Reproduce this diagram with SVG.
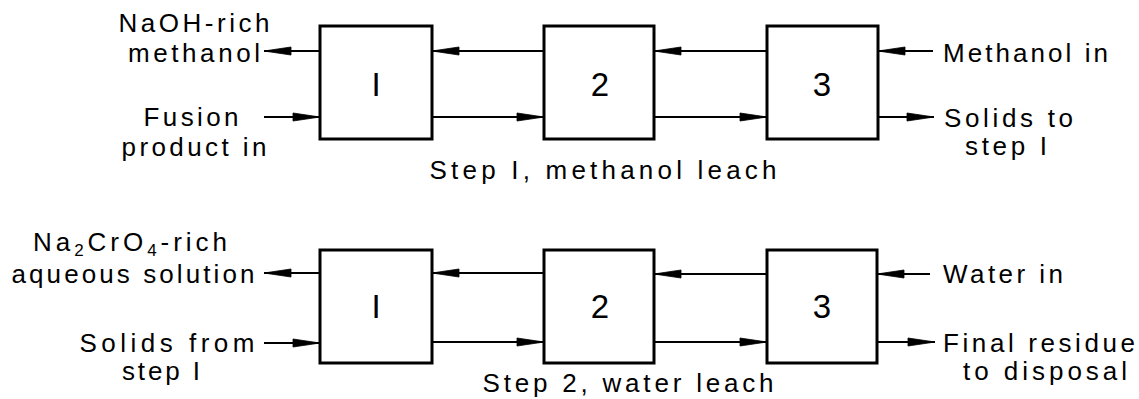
<svg xmlns="http://www.w3.org/2000/svg" width="1139" height="399" viewBox="0 0 1139 399">
  <style>
    .box { fill: #fff; stroke: #000; stroke-width: 3; }
    .num { font-family: "Liberation Sans", Arial, sans-serif; font-size: 33px; text-anchor: middle; fill: #000; }
    .lbl { font-family: "Liberation Sans", Arial, sans-serif; font-size: 26px; fill: #000; }
    .mid { text-anchor: middle; }
    .flow { stroke: #000; stroke-width: 2; fill: none; marker-end: url(#dart); }
  </style>
  <defs>
    <marker id="dart" markerUnits="userSpaceOnUse" markerWidth="32" markerHeight="12" viewBox="-30 -6 32 12" refX="0" refY="0" orient="auto">
      <path d="M0,0 L-27,-4 L-27,4 Z" fill="#000" stroke="#000" stroke-width="0.8" stroke-linejoin="round"/>
    </marker>
  </defs>
  <rect width="1139" height="399" fill="#fff"/>

  <!-- Step 1: methanol leach -->
  <g id="s1-box1"><rect class="box" x="320" y="26" width="112" height="113"/><text class="num" x="376" y="96">I</text></g>
  <g id="s1-box2"><rect class="box" x="544" y="26" width="110" height="113"/><text class="num" x="600" y="96">2</text></g>
  <g id="s1-box3"><rect class="box" x="767" y="26" width="111" height="113"/><text class="num" x="822" y="96">3</text></g>

  <g id="s1-naoh-out">
    <text class="lbl mid" x="194" y="32" textLength="151" lengthAdjust="spacing">NaOH-rich</text>
    <text class="lbl mid" x="194" y="62" textLength="132" lengthAdjust="spacing">methanol</text>
  </g>
  <g id="s1-fusion-in">
    <text class="lbl mid" x="191" y="126" textLength="95" lengthAdjust="spacing">Fusion</text>
    <text class="lbl mid" x="194" y="156" textLength="145" lengthAdjust="spacing">product in</text>
  </g>
  <g id="s1-methanol-in">
    <text class="lbl" x="943" y="62" textLength="165" lengthAdjust="spacing">Methanol in</text>
  </g>
  <g id="s1-solids-out">
    <text class="lbl" x="944" y="127" textLength="129" lengthAdjust="spacing">Solids to</text>
    <text class="lbl mid" x="1006" y="155" textLength="82" lengthAdjust="spacing">step I</text>
  </g>
  <g id="s1-title">
    <text class="lbl mid" x="603" y="179" textLength="347" lengthAdjust="spacing">Step I, methanol leach</text>
  </g>

  <!-- Step 2: water leach -->
  <g id="s2-box1"><rect class="box" x="320" y="250" width="112" height="113"/><text class="num" x="376" y="318">I</text></g>
  <g id="s2-box2"><rect class="box" x="544" y="250" width="110" height="113"/><text class="num" x="600" y="318">2</text></g>
  <g id="s2-box3"><rect class="box" x="767" y="250" width="110" height="113"/><text class="num" x="822" y="318">3</text></g>

  <g id="s2-chromate-out">
    <text class="lbl mid" x="130" y="251" textLength="194" lengthAdjust="spacing">Na<tspan font-size="17" dy="5">2</tspan><tspan dy="-5">CrO</tspan><tspan font-size="17" dy="5">4</tspan><tspan dy="-5">-rich</tspan></text>
    <text class="lbl mid" x="133" y="283" textLength="243" lengthAdjust="spacing">aqueous solution</text>
  </g>
  <g id="s2-solids-in">
    <text class="lbl mid" x="167" y="352" textLength="175" lengthAdjust="spacing">Solids from</text>
    <text class="lbl mid" x="161" y="380" textLength="78" lengthAdjust="spacing">step I</text>
  </g>
  <g id="s2-water-in">
    <text class="lbl" x="943" y="283" textLength="120" lengthAdjust="spacing">Water in</text>
  </g>
  <g id="s2-residue-out">
    <text class="lbl mid" x="1039" y="352" textLength="192" lengthAdjust="spacing">Final residue</text>
    <text class="lbl mid" x="1045" y="380" textLength="164" lengthAdjust="spacing">to disposal</text>
  </g>
  <g id="s2-title">
    <text class="lbl mid" x="628" y="392" textLength="291" lengthAdjust="spacing">Step 2, water leach</text>
  </g>

  <!-- flow lines -->
  <g id="connectors">
    <line class="flow" x1="320" y1="51" x2="264" y2="51"/>
    <line class="flow" x1="264" y1="117" x2="320" y2="117"/>
    <line class="flow" x1="544" y1="51" x2="432" y2="51"/>
    <line class="flow" x1="432" y1="117" x2="544" y2="117"/>
    <line class="flow" x1="767" y1="51" x2="654" y2="51"/>
    <line class="flow" x1="654" y1="117" x2="767" y2="117"/>
    <line class="flow" x1="933" y1="51" x2="878" y2="51"/>
    <line class="flow" x1="878" y1="117" x2="934" y2="117"/>

    <line class="flow" x1="320" y1="273" x2="264" y2="273"/>
    <line class="flow" x1="264" y1="343" x2="320" y2="343"/>
    <line class="flow" x1="544" y1="273" x2="432" y2="273"/>
    <line class="flow" x1="432" y1="342" x2="544" y2="342"/>
    <line class="flow" x1="767" y1="274" x2="654" y2="274"/>
    <line class="flow" x1="654" y1="342" x2="767" y2="342"/>
    <line class="flow" x1="930" y1="274" x2="877" y2="274"/>
    <line class="flow" x1="877" y1="342" x2="935" y2="342"/>
  </g>
</svg>
